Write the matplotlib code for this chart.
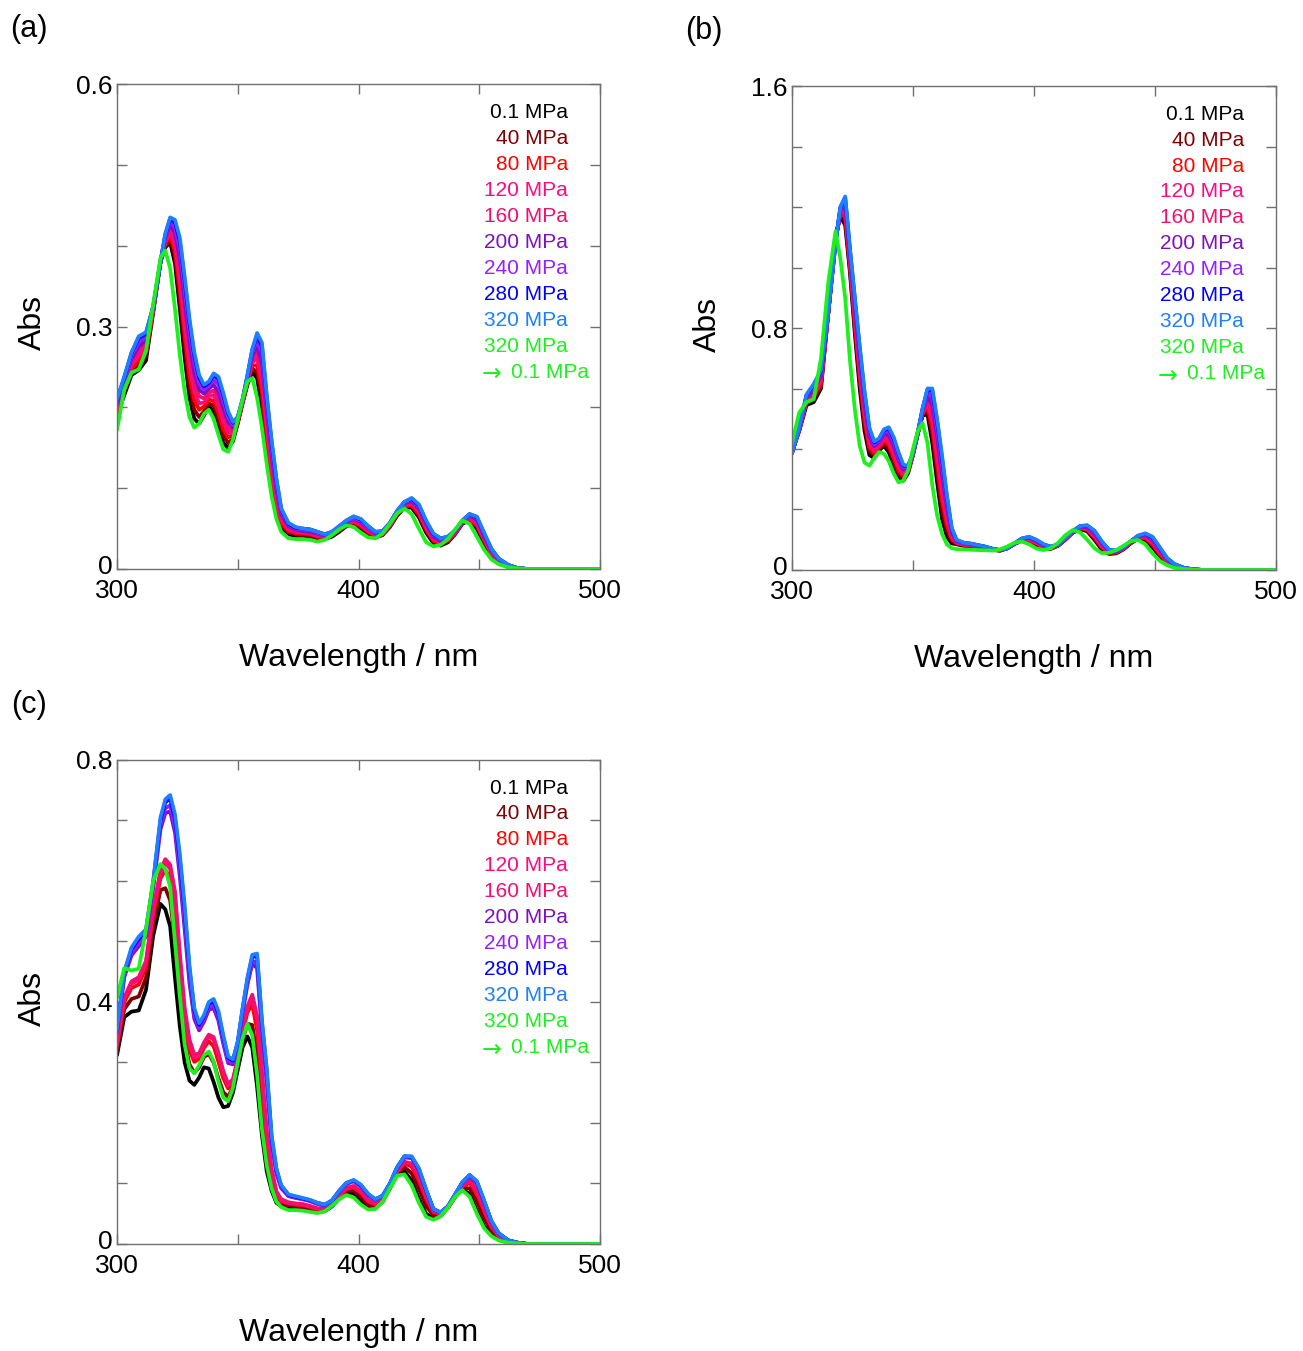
import matplotlib
matplotlib.use("Agg")
import matplotlib.pyplot as plt
from matplotlib.ticker import FixedLocator
from matplotlib.transforms import ScaledTranslation

plt.rcParams["font.family"] = ["Liberation Sans", "DejaVu Sans"]

# Wavelength grid (nm) shared by every spectrum
wavelength = [300, 303, 306, 309, 312, 315, 318, 320, 322, 324, 326, 328, 330, 332,
              334, 336, 338, 340, 342, 344, 346, 348, 350, 352, 354, 356, 358, 360,
              362, 364, 366, 368, 371, 374, 377, 380, 383, 386, 389, 392, 395, 398,
              401, 404, 407, 410, 413, 416, 419, 422, 425, 428, 431, 434, 437, 440,
              443, 446, 449, 452, 455, 458, 462, 466, 470, 500]

pressure_labels = ["0.1 MPa", "40 MPa", "80 MPa", "120 MPa", "160 MPa", "200 MPa",
                   "240 MPa", "280 MPa", "320 MPa", "320 MPa", "\u2192 0.1 MPa"]
pressure_colors = ["#000000", "#800000", "#ff0000", "#ff0a80", "#f0106e", "#7f10c0",
                   "#9520ff", "#0000ff", "#1e7fff", "#1ef01e"]

# ---- panel (a) absorbance ----
a_0p1 = [.190, .215, .240, .246, .258, .318, .380, .398, .404, .378, .322, .262, .212, .186,
         .180, .190, .201, .195, .176, .156, .150, .158, .180, .205, .228, .244, .236, .200,
         .150, .100, .068, .050, .043, .041, .041, .040, .038, .037, .040, .046, .053, .055,
         .050, .043, .039, .042, .052, .066, .076, .076, .064, .045, .032, .029, .033, .043,
         .056, .060, .050, .032, .017, .008, .003, .001, 0, 0]
a_40 = [.193, .218, .244, .252, .263, .319, .380, .400, .408, .386, .334, .276, .226, .197,
        .188, .195, .205, .202, .185, .165, .156, .161, .181, .206, .230, .248, .244, .211,
        .159, .108, .074, .054, .045, .043, .042, .041, .039, .038, .041, .047, .054, .056,
        .052, .044, .040, .043, .053, .067, .077, .078, .066, .047, .034, .030, .034, .044,
        .057, .061, .052, .034, .018, .009, .003, .001, 0, 0]
a_80 = [.196, .221, .248, .258, .268, .320, .380, .403, .413, .393, .347, .290, .239, .209,
        .197, .201, .210, .208, .193, .173, .163, .165, .182, .206, .231, .252, .252, .222,
        .168, .117, .080, .057, .047, .044, .044, .043, .040, .039, .042, .048, .055, .058,
        .053, .046, .041, .043, .053, .068, .078, .079, .068, .049, .035, .032, .035, .044,
        .057, .062, .054, .036, .019, .009, .004, .001, 0, 0]
a_120 = [.198, .225, .252, .264, .273, .321, .380, .405, .417, .401, .359, .304, .253, .220,
         .205, .206, .214, .215, .202, .182, .169, .168, .183, .207, .233, .256, .260, .234,
         .177, .125, .086, .061, .049, .046, .045, .044, .041, .040, .043, .049, .056, .059,
         .055, .047, .042, .044, .054, .069, .079, .081, .071, .051, .037, .033, .036, .045,
         .058, .063, .056, .037, .020, .010, .004, .001, 0, 0]
a_160 = [.201, .228, .256, .270, .278, .322, .380, .408, .421, .408, .371, .318, .267, .232,
         .214, .211, .218, .221, .211, .191, .175, .171, .184, .208, .235, .260, .267, .245,
         .186, .134, .093, .064, .051, .047, .046, .045, .042, .040, .043, .050, .057, .061,
         .057, .049, .043, .045, .055, .069, .080, .083, .073, .053, .039, .034, .037, .046,
         .058, .064, .058, .039, .021, .011, .004, .001, 0, 0]
a_200 = [.204, .231, .260, .275, .283, .323, .380, .410, .426, .416, .384, .332, .281, .243,
         .222, .217, .223, .228, .219, .199, .182, .175, .186, .209, .236, .264, .275, .256,
         .196, .142, .099, .068, .053, .049, .047, .046, .044, .041, .044, .051, .058, .062,
         .058, .050, .044, .046, .056, .070, .081, .084, .075, .056, .040, .035, .038, .047,
         .059, .066, .061, .041, .023, .012, .004, .001, 0, 0]
a_240 = [.207, .234, .264, .281, .287, .324, .380, .412, .430, .423, .396, .346, .294, .255,
         .230, .222, .227, .234, .228, .208, .188, .178, .187, .209, .238, .268, .283, .267,
         .205, .150, .105, .071, .055, .050, .049, .048, .045, .042, .045, .052, .059, .063,
         .060, .051, .045, .046, .056, .071, .082, .086, .077, .058, .042, .037, .039, .047,
         .059, .067, .063, .043, .024, .012, .005, .001, 0, 0]
a_280 = [.209, .237, .267, .286, .291, .325, .380, .414, .433, .429, .406, .357, .305, .264,
         .237, .226, .230, .240, .235, .215, .193, .181, .188, .210, .239, .271, .289, .276,
         .212, .157, .110, .074, .056, .051, .050, .049, .046, .043, .046, .053, .060, .065,
         .061, .053, .046, .047, .057, .072, .083, .087, .079, .059, .043, .038, .040, .048,
         .060, .068, .064, .044, .025, .013, .005, .001, 0, 0]
a_320 = [.210, .238, .268, .288, .293, .325, .380, .415, .435, .432, .410, .362, .310, .268,
         .240, .228, .232, .242, .238, .218, .195, .182, .188, .210, .240, .272, .292, .280,
         .215, .160, .112, .075, .057, .052, .050, .049, .046, .043, .046, .053, .060, .065,
         .062, .053, .046, .047, .057, .072, .083, .088, .080, .060, .044, .038, .040, .048,
         .060, .068, .065, .045, .025, .013, .005, .001, 0, 0]
a_back = [.172, .222, .243, .247, .270, .328, .385, .394, .372, .322, .265, .220, .188, .175,
          .180, .192, .197, .186, .166, .148, .145, .160, .185, .210, .232, .236, .212, .175,
          .130, .090, .062, .046, .038, .037, .037, .036, .034, .036, .042, .049, .054, .052,
          .045, .039, .038, .044, .056, .069, .075, .068, .050, .033, .028, .030, .037, .049,
          .060, .056, .040, .024, .012, .006, .002, .001, 0, 0]

# ---- panel (b) absorbance ----
b_0p1 = [.390, .460, .545, .555, .600, .850, 1.100, 1.170, 1.140, .980, .780, .600, .460, .380,
         .370, .395, .410, .390, .345, .305, .295, .320, .380, .450, .510, .515, .420, .290,
         .170, .110, .088, .085, .080, .078, .076, .072, .066, .064, .072, .086, .097, .095,
         .083, .071, .070, .080, .100, .123, .135, .128, .100, .068, .053, .055, .068, .088,
         .103, .100, .075, .045, .022, .010, .004, .001, 0, 0]
b_40 = [.389, .461, .550, .563, .608, .850, 1.097, 1.174, 1.153, .991, .797, .620, .478, .393,
        .378, .401, .418, .401, .358, .317, .302, .324, .381, .451, .514, .527, .445, .319,
        .199, .130, .095, .087, .081, .079, .077, .073, .067, .064, .072, .086, .098, .097,
        .085, .073, .071, .081, .101, .124, .136, .131, .104, .072, .055, .056, .069, .089,
        .104, .103, .080, .049, .025, .011, .004, .001, 0, 0]
b_80 = [.389, .463, .555, .572, .617, .850, 1.094, 1.178, 1.167, 1.002, .814, .639, .496, .405,
        .385, .406, .425, .413, .372, .329, .310, .327, .381, .451, .517, .539, .470, .349,
        .229, .149, .103, .089, .083, .081, .078, .073, .067, .065, .072, .087, .099, .099,
        .088, .075, .072, .081, .101, .124, .138, .134, .108, .076, .057, .058, .070, .090,
        .106, .106, .085, .053, .027, .013, .005, .001, 0, 0]
b_120 = [.388, .464, .560, .580, .625, .850, 1.092, 1.183, 1.180, 1.014, .830, .659, .515, .418,
         .393, .412, .433, .424, .385, .341, .317, .331, .382, .452, .521, .551, .496, .378,
         .258, .169, .110, .091, .084, .082, .079, .074, .068, .065, .072, .087, .100, .101,
         .090, .077, .073, .082, .102, .125, .139, .136, .113, .079, .059, .059, .071, .091,
         .107, .109, .090, .058, .030, .014, .005, .001, 0, 0]
b_160 = [.387, .466, .565, .589, .634, .850, 1.089, 1.187, 1.193, 1.025, .847, .678, .533, .430,
         .401, .417, .441, .436, .398, .353, .325, .334, .383, .453, .524, .563, .521, .408,
         .288, .188, .117, .093, .086, .083, .079, .075, .068, .065, .072, .087, .101, .103,
         .093, .079, .074, .083, .103, .126, .141, .139, .117, .083, .061, .060, .072, .092,
         .109, .112, .095, .062, .032, .016, .006, .002, 0, 0]
b_200 = [.387, .467, .570, .597, .642, .850, 1.086, 1.191, 1.207, 1.036, .864, .698, .551, .443,
         .409, .423, .449, .447, .412, .365, .332, .338, .384, .454, .528, .575, .546, .437,
         .317, .208, .124, .096, .087, .084, .080, .076, .069, .065, .072, .087, .102, .106,
         .095, .081, .075, .084, .104, .127, .142, .142, .121, .087, .063, .061, .073, .093,
         .110, .115, .100, .066, .035, .017, .006, .002, 0, 0]
b_240 = [.386, .468, .574, .605, .650, .850, 1.083, 1.195, 1.220, 1.047, .881, .718, .569, .456,
         .416, .429, .456, .459, .425, .376, .340, .341, .384, .454, .531, .586, .571, .466,
         .346, .228, .132, .098, .088, .086, .081, .076, .069, .066, .072, .088, .103, .108,
         .097, .083, .076, .084, .104, .127, .143, .145, .125, .091, .065, .063, .074, .094,
         .111, .118, .104, .070, .037, .018, .007, .002, 0, 0]
b_280 = [.385, .470, .578, .612, .657, .850, 1.081, 1.199, 1.230, 1.056, .894, .733, .584, .466,
         .422, .433, .462, .468, .435, .386, .345, .344, .385, .455, .534, .596, .591, .490,
         .370, .243, .137, .099, .090, .087, .082, .077, .070, .066, .072, .088, .104, .109,
         .099, .084, .077, .085, .105, .128, .145, .147, .129, .094, .066, .064, .075, .095,
         .113, .120, .108, .074, .039, .020, .007, .002, 0, 0]
b_320 = [.385, .470, .580, .615, .660, .850, 1.080, 1.200, 1.235, 1.060, .900, .740, .590, .470,
         .425, .435, .465, .472, .440, .390, .348, .345, .385, .455, .535, .600, .600, .500,
         .380, .250, .140, .100, .090, .087, .082, .077, .070, .066, .072, .088, .104, .110,
         .100, .085, .077, .085, .105, .128, .145, .148, .130, .095, .067, .064, .075, .095,
         .113, .121, .110, .075, .040, .020, .007, .002, 0, 0]
b_back = [.420, .520, .555, .565, .700, .950, 1.120, 1.030, .900, .690, .530, .410, .355, .345,
          .370, .390, .385, .360, .320, .290, .295, .330, .400, .460, .485, .420, .280, .180,
          .120, .085, .072, .069, .068, .067, .066, .065, .064, .068, .078, .090, .094, .085,
          .071, .066, .072, .090, .115, .132, .125, .100, .072, .056, .057, .066, .080, .095,
          .099, .085, .055, .030, .016, .007, .003, .001, 0, 0]

# ---- panel (c) absorbance ----
c_0p1 = [.312, .375, .384, .386, .420, .510, .562, .553, .525, .440, .360, .300, .270, .263,
         .275, .292, .290, .268, .242, .226, .228, .250, .288, .325, .343, .325, .260, .180,
         .120, .088, .068, .062, .060, .059, .058, .056, .053, .054, .062, .075, .085, .083,
         .070, .060, .059, .070, .092, .115, .120, .105, .075, .050, .042, .046, .060, .078,
         .090, .083, .055, .030, .015, .007, .003, .001, 0, 0]
c_40 = [.320, .388, .405, .409, .440, .528, .585, .588, .568, .501, .410, .336, .297, .283,
        .292, .309, .314, .300, .274, .251, .243, .259, .296, .337, .364, .362, .310, .225,
        .147, .102, .076, .066, .064, .062, .061, .059, .055, .056, .064, .077, .088, .088,
        .077, .065, .062, .072, .093, .117, .127, .117, .091, .063, .047, .048, .060, .078,
        .093, .092, .070, .043, .022, .010, .004, .001, 0, 0]
c_80 = [.327, .400, .423, .429, .458, .544, .604, .618, .606, .555, .453, .368, .321, .301,
        .306, .324, .335, .327, .301, .274, .257, .267, .302, .348, .383, .396, .353, .265,
        .171, .115, .082, .070, .067, .065, .064, .061, .057, .057, .065, .079, .091, .093,
        .084, .070, .065, .073, .095, .119, .133, .128, .105, .074, .052, .049, .060, .078,
        .095, .101, .083, .054, .028, .013, .005, .002, 0, 0]
c_120 = [.330, .405, .430, .437, .465, .550, .612, .630, .620, .575, .470, .380, .330, .308,
         .312, .330, .343, .338, .312, .282, .262, .270, .305, .352, .390, .408, .370, .280,
         .180, .120, .085, .072, .068, .066, .065, .062, .058, .058, .066, .080, .092, .095,
         .086, .072, .066, .074, .095, .120, .135, .132, .110, .078, .054, .050, .060, .078,
         .096, .104, .088, .058, .030, .014, .005, .002, 0, 0]
c_160 = [.332, .407, .434, .441, .468, .553, .618, .636, .627, .583, .481, .391, .338, .313,
         .315, .333, .346, .342, .316, .286, .265, .272, .307, .354, .393, .412, .377, .285,
         .187, .124, .087, .074, .069, .067, .066, .063, .059, .058, .066, .080, .093, .096,
         .087, .073, .066, .074, .095, .120, .136, .133, .111, .079, .054, .050, .060, .078,
         .096, .105, .089, .059, .030, .014, .005, .002, 0, 0]
c_200 = [.350, .441, .477, .492, .508, .589, .685, .712, .715, .680, .607, .520, .431, .372,
         .353, .367, .387, .390, .369, .331, .299, .297, .328, .382, .429, .463, .456, .350,
         .266, .167, .116, .092, .079, .076, .074, .071, .066, .063, .071, .086, .099, .104,
         .095, .081, .072, .079, .099, .125, .143, .142, .122, .087, .057, .052, .062, .081,
         .101, .112, .100, .069, .036, .017, .006, .002, 0, 0]
c_240 = [.352, .444, .482, .498, .512, .593, .692, .720, .725, .691, .621, .535, .442, .379,
         .358, .371, .392, .396, .375, .336, .303, .300, .331, .385, .433, .468, .465, .357,
         .275, .172, .119, .094, .080, .077, .074, .071, .067, .064, .071, .087, .100, .104,
         .096, .081, .073, .079, .099, .126, .144, .143, .123, .088, .057, .052, .062, .081,
         .101, .113, .102, .070, .037, .017, .006, .002, 0, 0]
c_280 = [.354, .448, .487, .504, .517, .598, .700, .730, .736, .703, .636, .551, .454, .386,
         .362, .376, .397, .402, .381, .342, .308, .303, .334, .388, .438, .475, .475, .366,
         .285, .177, .123, .096, .081, .078, .075, .072, .068, .065, .072, .088, .101, .105,
         .097, .082, .074, .080, .100, .127, .145, .144, .124, .089, .058, .052, .062, .082,
         .102, .114, .103, .071, .038, .018, .006, .002, 0, 0]
c_320 = [.355, .450, .490, .508, .520, .600, .705, .735, .742, .710, .645, .560, .460, .390,
         .365, .378, .400, .405, .385, .345, .310, .305, .335, .390, .440, .478, .480, .370,
         .290, .180, .125, .097, .082, .079, .076, .073, .068, .065, .072, .088, .101, .106,
         .098, .083, .074, .080, .100, .127, .145, .145, .125, .090, .058, .052, .062, .082,
         .102, .114, .104, .072, .038, .018, .006, .002, 0, 0]
c_back = [.407, .456, .452, .455, .520, .600, .628, .620, .590, .500, .410, .330, .290, .282,
          .295, .312, .318, .302, .268, .242, .236, .258, .300, .340, .364, .345, .280, .190,
          .130, .092, .070, .061, .056, .056, .055, .053, .051, .054, .063, .074, .081, .077,
          .065, .057, .058, .070, .092, .113, .115, .097, .068, .045, .040, .046, .060, .078,
          .089, .078, .050, .026, .013, .006, .002, .001, 0, 0]

# Axis ranges and tick positions per panel
ymax_a, ymax_b, ymax_c = 0.6, 1.6, 0.8
yticks_a, yticks_b, yticks_c = [0, 0.3, 0.6], [0, 0.8, 1.6], [0, 0.4, 0.8]
yminor_a = [0.1, 0.2, 0.4, 0.5]
yminor_b = [0.2, 0.4, 0.6, 1.0, 1.2, 1.4]
yminor_c = [0.1, 0.2, 0.3, 0.5, 0.6, 0.7]
ytick_text_a = ["0", "0.3", "0.6"]
ytick_text_b = ["0", "0.8", "1.6"]
ytick_text_c = ["0", "0.4", "0.8"]
xticks = [300, 400, 500]
xminor = [350, 450]

panels = [
    ("(a)", [0.0898, 0.5788, 0.3707, 0.3590],
     [a_0p1, a_40, a_80, a_120, a_160, a_200, a_240, a_280, a_320, a_back],
     ymax_a, yticks_a, yminor_a, ytick_text_a),
    ("(b)", [0.6078, 0.5781, 0.3714, 0.3582],
     [b_0p1, b_40, b_80, b_120, b_160, b_200, b_240, b_280, b_320, b_back],
     ymax_b, yticks_b, yminor_b, ytick_text_b),
    ("(c)", [0.0898, 0.0792, 0.3707, 0.3583],
     [c_0p1, c_40, c_80, c_120, c_160, c_200, c_240, c_280, c_320, c_back],
     ymax_c, yticks_c, yminor_c, ytick_text_c),
]

text_colors = ["#000000", "#800000", "#ff0000", "#ff0a80", "#f0106e", "#7f10c0",
               "#9520ff", "#0000ff", "#1e7fff", "#1ef01e", "#1ef01e"]

fig = plt.figure(figsize=(13.03, 13.51), dpi=100)
frame_grey = "#707070"

for tag, rect, series, ymax, yt, ym, ytxt in panels:
    ax = fig.add_axes(rect)
    for values, col in zip(series, pressure_colors):
        ax.plot(wavelength, values, color=col, lw=2.7, solid_joinstyle="round",
                solid_capstyle="round")
    ax.set_xlim(300, 500)
    ax.set_ylim(0, ymax)
    ax.xaxis.set_major_locator(FixedLocator(xticks))
    ax.xaxis.set_minor_locator(FixedLocator(xminor))
    ax.yaxis.set_major_locator(FixedLocator(yt))
    ax.yaxis.set_minor_locator(FixedLocator(ym))
    ax.set_xticklabels([str(t) for t in xticks])
    ax.set_yticklabels(ytxt)
    ax.tick_params(which="both", direction="in", top=True, right=True,
                   length=7, width=1, color=frame_grey, labelsize=19)
    ax.tick_params(axis="x", which="major", pad=7)
    ax.tick_params(axis="y", which="major", pad=3)
    # lift the zero label a little so it sits clear of the first x label
    zero_lab = ax.get_yticklabels()[0]
    zero_lab.set_transform(zero_lab.get_transform()
                           + ScaledTranslation(0, 3 / 72, fig.dpi_scale_trans))
    for sp in ax.spines.values():
        sp.set_color(frame_grey)
        sp.set_linewidth(1)
    ax.set_xlabel("Wavelength / nm", fontsize=23, va="center")
    ax.xaxis.set_label_coords(0.5, -0.183)
    ax.set_ylabel("Abs", fontsize=23, va="center")
    ax.yaxis.set_label_coords(-0.174, 0.508)

    # pressure key, one coloured line of text per spectrum
    y0, step = 0.942, 0.0536
    last = len(pressure_labels) - 1
    for i, (lab, col) in enumerate(zip(pressure_labels, text_colors)):
        yy = y0 - i * step
        if i < last:
            ax.text(0.934, yy, lab, color=col, fontsize=15,
                    ha="right", va="center", transform=ax.transAxes)
        else:
            arrow, rest = lab.split(" ", 1)
            ax.text(0.755, yy - 0.004, arrow, color=col, fontsize=17,
                    family="DejaVu Sans", ha="left", va="center",
                    transform=ax.transAxes)
            ax.text(0.977, yy, rest, color=col, fontsize=15,
                    ha="right", va="center", transform=ax.transAxes)

    # panel tag in the upper-left corner
    fig.text(rect[0] - 0.0675, rect[1] + rect[3] + 0.0405, tag, fontsize=22,
             ha="center", va="center")

fig.savefig("out.png", dpi=100)
